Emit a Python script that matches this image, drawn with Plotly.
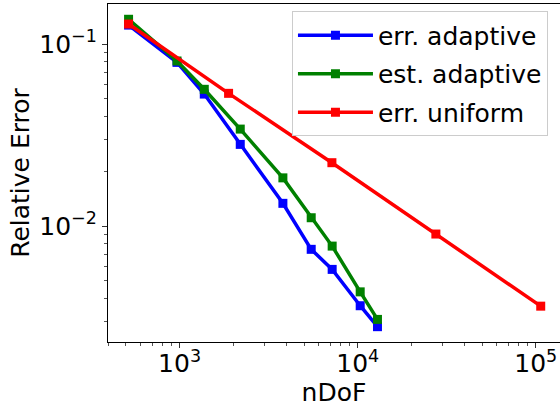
import plotly.graph_objects as go

# Data
ndof_adaptive = [517, 967, 1376, 2191, 3802, 5483, 7190, 10330, 12915]
err_adaptive = [0.1271, 0.0793, 0.0531, 0.0281, 0.01333, 0.00745, 0.00578, 0.00365, 0.00280]
est_adaptive = [0.1368, 0.0807, 0.0564, 0.0341, 0.0184, 0.01111, 0.00776, 0.00435, 0.00307]
ndof_uniform = [517, 1884, 7165, 27480, 106600]
err_uniform = [0.1288, 0.0536, 0.02229, 0.00904, 0.00363]

series_names = ["err. adaptive", "est. adaptive", "err. uniform"]
series_colors = ["#0000ff", "#008000", "#ff0000"]

x_tickvals = [1e3, 1e4, 1e5]
x_ticktext = ["10<sup>3</sup>", "10<sup>4</sup>", "10<sup>5</sup>"]
y_tickvals = [1e-2, 1e-1]
y_ticktext = ["10<sup>−2</sup>", "10<sup>−1</sup>"]

x_minor = [m * 10 ** e for e in (2, 3, 4) for m in range(2, 10) if 400 <= m * 10 ** e <= 1.3e5]
y_minor = [m * 10 ** e for e in (-3, -2) for m in range(2, 10) if 2.3e-3 <= m * 10 ** e <= 0.16]

FONT = "DejaVu Sans"
FS = 25

fig = go.Figure()
data = [(ndof_adaptive, err_adaptive), (ndof_adaptive, est_adaptive), (ndof_uniform, err_uniform)]
for i, ((xs, ys), name, col) in enumerate(zip(data, series_names, series_colors)):
    fig.add_trace(go.Scatter(
        x=xs, y=ys, name=name, mode="lines+markers",
        line=dict(color=col, width=3.5),
        marker=dict(symbol="square", size=9, color=col),
        legendgroup=f"g{i}",
    ))

fig.update_layout(
    width=560, height=409,
    margin=dict(l=108, r=0, t=4, b=67),
    paper_bgcolor="white", plot_bgcolor="white",
    font=dict(family=FONT, size=FS, color="black"),
    showlegend=True,
    legend=dict(
        x=0.407, y=0.978, xanchor="left", yanchor="top",
        bgcolor="rgba(255,255,255,0.8)", bordercolor="#cccccc", borderwidth=1,
        font=dict(family=FONT, size=FS, color="black"),
        tracegroupgap=3, itemwidth=75,
    ),
    xaxis=dict(
        type="log", range=[2.598, 5.136],
        showgrid=False, zeroline=False,
        showline=True, linecolor="black", linewidth=1.2, mirror=True,
        ticks="outside", ticklen=5, tickwidth=1, tickcolor="#333333",
        tickmode="array", tickvals=x_tickvals, ticktext=x_ticktext,
        tickfont=dict(family=FONT, size=FS),
        ticklabelstandoff=-6,
        minor=dict(tickmode="array", tickvals=x_minor, ticks="outside", ticklen=3, tickwidth=1, tickcolor="#555555", showgrid=False),
        title=dict(text="nDoF", font=dict(family=FONT, size=FS), standoff=4),
    ),
    yaxis=dict(
        type="log", range=[-2.637, -0.780],
        showgrid=False, zeroline=False,
        showline=True, linecolor="black", linewidth=1.2, mirror=False,
        ticks="outside", ticklen=5, tickwidth=1, tickcolor="#333333",
        tickmode="array", tickvals=y_tickvals, ticktext=y_ticktext,
        tickfont=dict(family=FONT, size=FS),
        minor=dict(tickmode="array", tickvals=y_minor, ticks="outside", ticklen=3, tickwidth=1, tickcolor="#555555", showgrid=False),
        title=dict(text="Relative Error", font=dict(family=FONT, size=FS), standoff=2),
    ),
)

fig.write_html("out.html")
